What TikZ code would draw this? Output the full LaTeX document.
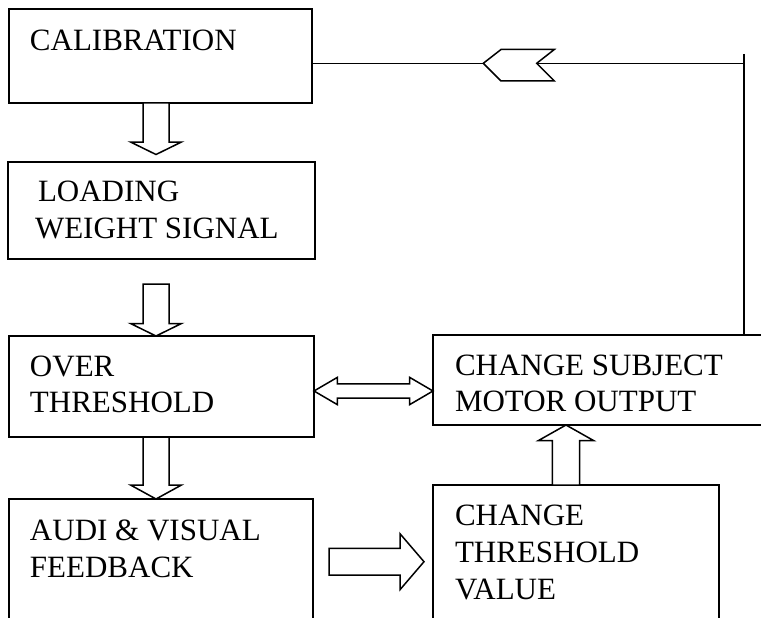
\documentclass[tikz,border=0pt]{standalone}
\usepackage{fontspec}
\setmainfont{Liberation Serif}
\usetikzlibrary{calc}
\tikzset{
  box/.style={draw, line width=2pt, rectangle, inner sep=0pt, outer sep=0pt},
  lbl/.style={anchor=base west, inner sep=0pt, outer sep=0pt, font=\fontsize{31}{37}\selectfont},
  blk/.style={draw, line width=1.5pt, fill=white, line join=miter},
  fb/.style={draw, line width=1.5pt},
}
% #1 start, #2 tip, #3 shaft half width, #4 head half width, #5 head length
\newcommand\blockarrow[5]{%
  \coordinate (hb) at ($(#2)!#5!(#1)$);
  \draw[blk] ($(#1)!#3!90:(#2)$) -- ($(hb)!#3!90:(#2)$) -- ($(hb)!#4!90:(#2)$) -- (#2)
    -- ($(hb)!#4!-90:(#2)$) -- ($(hb)!#3!-90:(#2)$) -- ($(#1)!#3!-90:(#2)$) -- cycle;}
% #1 left tip, #2 right tip, #3 shaft half, #4 head half, #5 head length
\newcommand\dblarrow[5]{%
  \coordinate (hbA) at ($(#1)!#5!(#2)$);
  \coordinate (hbB) at ($(#2)!#5!(#1)$);
  \draw[blk] (#1) -- ($(hbA)!#4!90:(#2)$) -- ($(hbA)!#3!90:(#2)$) -- ($(hbB)!#3!-90:(#1)$)
    -- ($(hbB)!#4!-90:(#1)$) -- (#2) -- ($(hbB)!#4!90:(#1)$) -- ($(hbB)!#3!90:(#1)$)
    -- ($(hbA)!#3!-90:(#2)$) -- ($(hbA)!#4!-90:(#2)$) -- cycle;}
\begin{document}
\begin{tikzpicture}[x=1pt,y=-1pt]
\clip (0,0) rectangle (761,618);
\fill[white] (0,0) rectangle (761,618);
% boxes
\node[box, minimum width=303pt, minimum height=94pt] (cal) at (160.5,56) {};
\node[box, minimum width=307pt, minimum height=97pt] (load) at (161.5,210.5) {};
\node[box, minimum width=305pt, minimum height=101pt] (over) at (161.5,386.5) {};
\node[box, minimum width=367pt, minimum height=90pt] (subj) at (616.5,380) {};
\node[box, minimum width=304pt, minimum height=201pt] (audi) at (161,599.5) {};
\node[box, minimum width=286pt, minimum height=215pt] (thr) at (576,592.5) {};
% texts
\node[lbl] (t1) at (30,50.7) {CALIBRATION};
\node[lbl] (t2a) at (38,201.7) {LOADING};
\node[lbl] (t2b) at (35,238.3) {WEIGHT SIGNAL};
\node[lbl] (t3a) at (30,376.7) {OVER};
\node[lbl] (t3b) at (30,412.7) {THRESHOLD};
\node[lbl] (t4a) at (455,375) {CHANGE SUBJECT};
\node[lbl] (t4b) at (455,411.7) {MOTOR OUTPUT};
\node[lbl] (t5a) at (30,540) {AUDI \& VISUAL};
\node[lbl] (t5b) at (30,577.3) {FEEDBACK};
\node[lbl] (t6a) at (455,525) {CHANGE};
\node[lbl] (t6b) at (455,562.7) {THRESHOLD};
\node[lbl] (t6c) at (455,599.3) {VALUE};
% feedback line
\coordinate (fbtop) at (744,54);
\coordinate (fbc) at (744,63.3);
\draw[fb] (fbtop) -- (fbtop |- subj.north);
\draw[fb] (fbc -| cal.east) -- (fbc);
\coordinate (chv) at (483.3,63.3);
\draw[blk] (chv) -- ++(17.7,-13.8) -- ++(53.3,0) -- ++(-17.6,13.8) -- ++(17.6,17.7) -- ++(-53.3,0) -- cycle;
% block arrows
\coordinate (a1s) at ($(cal.south)+(-4.5,0)$);
\coordinate (a1e) at ($(a1s)+(0,51.5)$);
\blockarrow{a1s}{a1e}{13pt}{25.5pt}{12.5pt}
\coordinate (a2e) at ($(over.north)+(-5.5,0)$);
\coordinate (a2s) at ($(a2e)+(0,-52)$);
\blockarrow{a2s}{a2e}{13pt}{25.5pt}{12.5pt}
\coordinate (a3s) at ($(over.south)+(-5.5,0)$);
\coordinate (a3e) at (a3s |- audi.north);
\blockarrow{a3s}{a3e}{13pt}{25.5pt}{14pt}
\coordinate (a4s) at ($(thr.north)+(-10,0)$);
\coordinate (a4e) at (a4s |- subj.south);
\blockarrow{a4s}{a4e}{13.7pt}{27.5pt}{15.5pt}
\coordinate (a5s) at (329,561.7);
\coordinate (a5e) at (424,561.7);
\blockarrow{a5s}{a5e}{13.3pt}{28pt}{24pt}
\coordinate (d1) at ($(over.east)+(0,4.5)$);
\coordinate (d2) at (d1 -| subj.west);
\dblarrow{d1}{d2}{7.2pt}{13.6pt}{23.3pt}
\end{tikzpicture}
\end{document}
